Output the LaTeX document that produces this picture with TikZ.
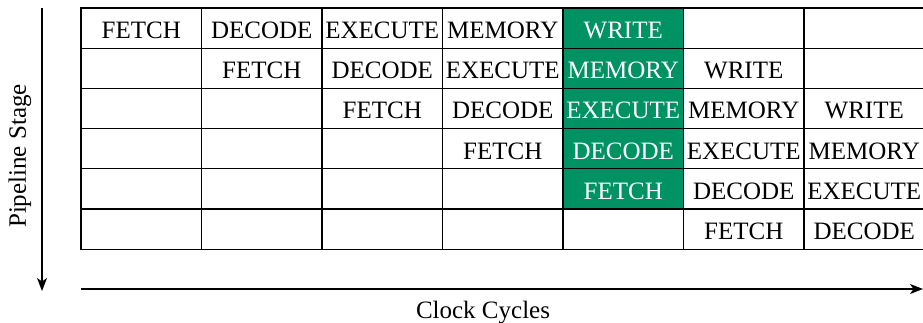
\documentclass[tikz,border=0pt]{standalone}
\usepackage{fontspec}
\setmainfont{Liberation Serif}
\usepackage{tikz}
\usetikzlibrary{arrows.meta}
\definecolor{stagegreen}{RGB}{0,146,99}
\def\stagename#1{\ifcase#1 FETCH\or DECODE\or EXECUTE\or MEMORY\or WRITE\fi}
\tikzset{
  cell/.style={draw, line width=1.2pt, minimum width=120.5pt, minimum height=40.2pt,
    inner sep=0pt, text height=21pt, text depth=0pt, font=\fontsize{25}{30}\selectfont},
  hot/.style={cell, fill=stagegreen, text=white},
  axis/.style={line width=1.2pt, -{Stealth[length=13pt,width=10pt,inset=3.5pt]}},
  axislabel/.style={font=\fontsize{25}{30}\selectfont}
}
\begin{document}
\begin{tikzpicture}[x=1pt,y=-1pt]
  \useasboundingbox (0,0) rectangle (923,323);
  % pipeline table: row = instruction, column = clock cycle
  \foreach \r in {1,...,6}
    \foreach \c in {1,...,7} {
      \pgfmathtruncatemacro{\k}{\c-\r}
      \def\sty{cell}
      \ifnum\c=5 \ifnum\r<6 \def\sty{hot}\fi\fi
      \node[\sty] (c\r\c) at ({81+120.5*(\c-0.5)},{8+40.2*(\r-0.5)}) {\stagename{\k}};
    }

  \coordinate (ytop) at (42,8);
  \coordinate (ybot) at (42,291);
  \coordinate (xleft) at (81,289);
  \coordinate (xright) at (923,289);
  \draw[axis] (ytop) -- (ybot);
  \draw[axis] (xleft) -- (xright);
  \node[axislabel, rotate=90] (ylab) at (20,156) {Pipeline Stage};
  \node[axislabel] (xlab) at (483,313) {Clock Cycles};
\end{tikzpicture}
\end{document}
